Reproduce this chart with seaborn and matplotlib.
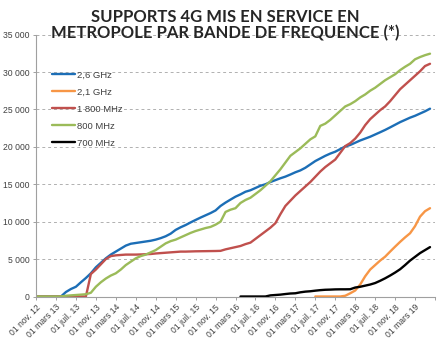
import matplotlib
matplotlib.use("Agg")
import numpy as np
import pandas as pd
import seaborn as sns
import matplotlib.pyplot as plt

N = np.nan

tick_labels = ["01 nov. 12", "01 mars 13", "01 juil. 13", "01 nov. 13", "01 mars 14",
               "01 juil. 14", "01 nov. 14", "01 mars 15", "01 juil. 15", "01 nov. 15",
               "01 mars 16", "01 juil. 16", "01 nov. 16", "01 mars 17", "01 juil. 17",
               "01 nov. 17", "01 mars 18", "01 juil. 18", "01 nov. 18", "01 mars 19"]

# monthly index: 0 = nov. 2012 ... 79 = juin 2019
months = list(range(80))

band_26 = [0, 0, 0, 0, 0, 0, 600, 1000, 1300, 1900,
           2470, 3100, 3900, 4500, 5100, 5600, 6000, 6400, 6800, 7050,
           7150, 7250, 7350, 7450, 7600, 7800, 8050, 8400, 8900, 9250,
           9550, 9900, 10230, 10550, 10850, 11150, 11500, 12100, 12550, 12950,
           13340, 13650, 14000, 14200, 14500, 14800, 15000, 15300, 15550, 15800,
           16020, 16300, 16600, 16850, 17200, 17650, 18100, 18450, 18800, 19100,
           19350, 19700, 20050, 20250, 20550, 20850, 21100, 21350, 21650, 21950,
           22260, 22600, 22950, 23300, 23600, 23900, 24150, 24450, 24750, 25100]

band_21 = [N] * 56 + [0, 0, 0, 0, 0, 0, 100, 430, 800, 1600,
                      2700, 3600, 4200, 4800, 5320, 6000, 6660, 7300, 7900, 8450,
                      9400, 10670, 11400, 11800]

band_1800 = [0, 0, 0, 0, 0, 0, 0, 0, 0, 0,
             0, 3000, 3600, 4300, 5000, 5400, 5500, 5550, 5600, 5600,
             5600, 5620, 5650, 5680, 5750, 5800, 5850, 5900, 5950, 6000,
             6000, 6020, 6040, 6050, 6060, 6070, 6080, 6100, 6300, 6450,
             6600, 6750, 7000, 7200, 7700, 8200, 8700, 9200, 9800, 11000,
             12100, 12800, 13500, 14100, 14700, 15300, 16000, 16700, 17300, 17800,
             18300, 19200, 20100, 20500, 21100, 21900, 22900, 23700, 24300, 24900,
             25400, 26100, 26900, 27700, 28300, 28900, 29500, 30100, 30800, 31100]

band_800 = [0, 0, 0, 0, 0, 0, 100, 150, 200, 250,
            300, 500, 1300, 1900, 2400, 2800, 3100, 3600, 4200, 4650,
            5100, 5400, 5600, 5900, 6200, 6650, 7100, 7400, 7600, 7900,
            8200, 8500, 8750, 8950, 9150, 9300, 9600, 10000, 11300, 11600,
            11800, 12500, 12900, 13200, 13700, 14200, 14800, 15400, 16200, 17000,
            17900, 18800, 19300, 19800, 20400, 21000, 21400, 22800, 23100, 23600,
            24200, 24800, 25400, 25700, 26100, 26600, 27000, 27500, 27900, 28400,
            28900, 29300, 29700, 30250, 30700, 31100, 31700, 32000, 32250, 32450]

band_700 = [N] * 41 + [0, 0, 0, 0, 0, 0, 150, 200, 250,
                       330, 400, 430, 560, 650, 700, 780, 850, 900, 920,
                       950, 960, 960, 970, 1200, 1300, 1450, 1600, 1800, 2100,
                       2430, 2800, 3200, 3640, 4200, 4800, 5300, 5800, 6200, 6600]

series_names = ["2,6 GHz", "2,1 GHz", "1 800 MHz", "800 MHz", "700 MHz"]
series_vals = [band_26, band_21, band_1800, band_800, band_700]
colors = ["#1C6EB6", "#F79646", "#C0504D", "#9BBB59", "#000000"]

frames = []
for name, vals in zip(series_names, series_vals):
    frames.append(pd.DataFrame({"mois": months, "supports": vals, "bande": name}))
df = pd.concat(frames, ignore_index=True).dropna()

sns.set_theme(style="white")
plt.rcParams["font.family"] = ["Liberation Sans", "DejaVu Sans"]

fig = plt.figure(figsize=(4.45, 3.59), dpi=100)
ax = fig.add_axes([36 / 445, 62.5 / 359, 399 / 445, 261.9 / 359])

sns.lineplot(data=df, x="mois", y="supports", hue="bande", hue_order=series_names,
             palette=dict(zip(series_names, colors)), linewidth=1.7, ax=ax,
             estimator=None, sort=True)

ax.set_xlim(0, 80)
ax.set_ylim(0, 35000)
ax.set_xlabel("")
ax.set_ylabel("")

yt = list(range(0, 35001, 5000))
ax.set_yticks(yt)
ax.set_yticklabels([("{:,}".format(v)).replace(",", " ") for v in yt],
                   fontsize=6.2, color="#404040")
for v in yt[1:]:
    ax.axhline(v, color="#B0B0B0", linestyle=(0, (3, 3)), linewidth=0.7, zorder=0)

xt = list(range(0, 81, 4))
ax.set_xticks(xt)
ax.set_xticklabels(tick_labels + [""], rotation=45, ha="right",
                   rotation_mode="anchor", fontsize=6.2, color="#404040")

ax.tick_params(axis="both", which="both", length=2.5, width=0.7, color="#A0A0A0",
               bottom=True, left=True, pad=2)
ax.tick_params(axis="y", pad=2)
for s in ["top", "right"]:
    ax.spines[s].set_visible(False)
for s in ["left", "bottom"]:
    ax.spines[s].set_color("#A0A0A0")
    ax.spines[s].set_linewidth(0.8)

leg = ax.legend(loc="upper left", bbox_to_anchor=(0.02, 0.895), frameon=False,
                fontsize=6.8, handlelength=2.4, handletextpad=0.2,
                labelspacing=0.85)
for t in leg.get_texts():
    t.set_color("#404040")

fig.text(225 / 445, 1 - 25 / 359,
         "SUPPORTS 4G MIS EN SERVICE EN\nMETROPOLE PAR BANDE DE FREQUENCE (*)",
         ha="center", va="center", fontsize=12, fontweight="bold",
         color="#262626", linespacing=1.05, family=["Lato", "DejaVu Sans"])

fig.savefig("out.png", dpi=100)
